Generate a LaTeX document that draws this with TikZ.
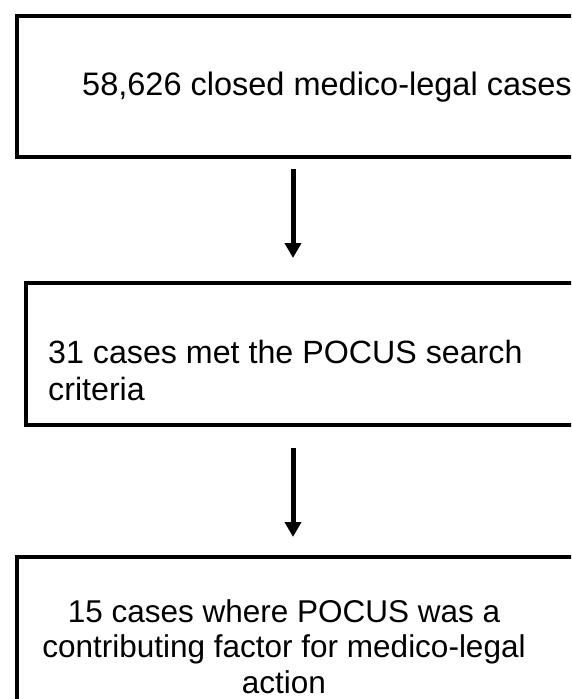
\documentclass[tikz,border=0pt]{standalone}
\usepackage{fontspec}
\setmainfont{Liberation Sans}
\usetikzlibrary{arrows.meta, positioning}

\begin{document}
\begin{tikzpicture}[
  x=1pt, y=-1pt,
  stagebox/.style={rectangle, draw=black, line width=4pt, minimum width=640pt, minimum height=#1, anchor=north west, inner sep=0pt},
  stagetext/.style={font=\fontsize{#1}{1.12\dimexpr#1pt\relax}\selectfont, inner sep=0pt},
  flow/.style={-{Triangle[width=16pt,length=15pt]}, line width=5pt}
]
\useasboundingbox (0,0) rectangle (571,699);
\clip (0,0) rectangle (571,699);

% Boxes
\node[stagebox=141pt] (cases) at (15,14) {};
\node[stagebox=142pt] (pocus) at (24,281) {};
\node[stagebox=146pt] (factor) at (15,555) {};

% Texts (base = last line)
\node[stagetext=32.5, anchor=base west] (casesT) at (82,95) {58,626 closed medico-legal cases};
\node[stagetext=32.2, anchor=base west, align=left] (pocusT) at (48,400) {31 cases met the POCUS search\\criteria};
\node[stagetext=31.5, anchor=base, align=center] (factorT) at (284,693) {15 cases where POCUS was a\\contributing factor for medico-legal\\action};

% Arrows
\coordinate (a1top) at (293,169);
\coordinate (a1tip) at (293,258);
\coordinate (a2top) at (293,448);
\coordinate (a2tip) at (293,537);
\draw[flow] (a1top) -- (a1tip);
\draw[flow] (a2top) -- (a2tip);

\end{tikzpicture}
\end{document}
